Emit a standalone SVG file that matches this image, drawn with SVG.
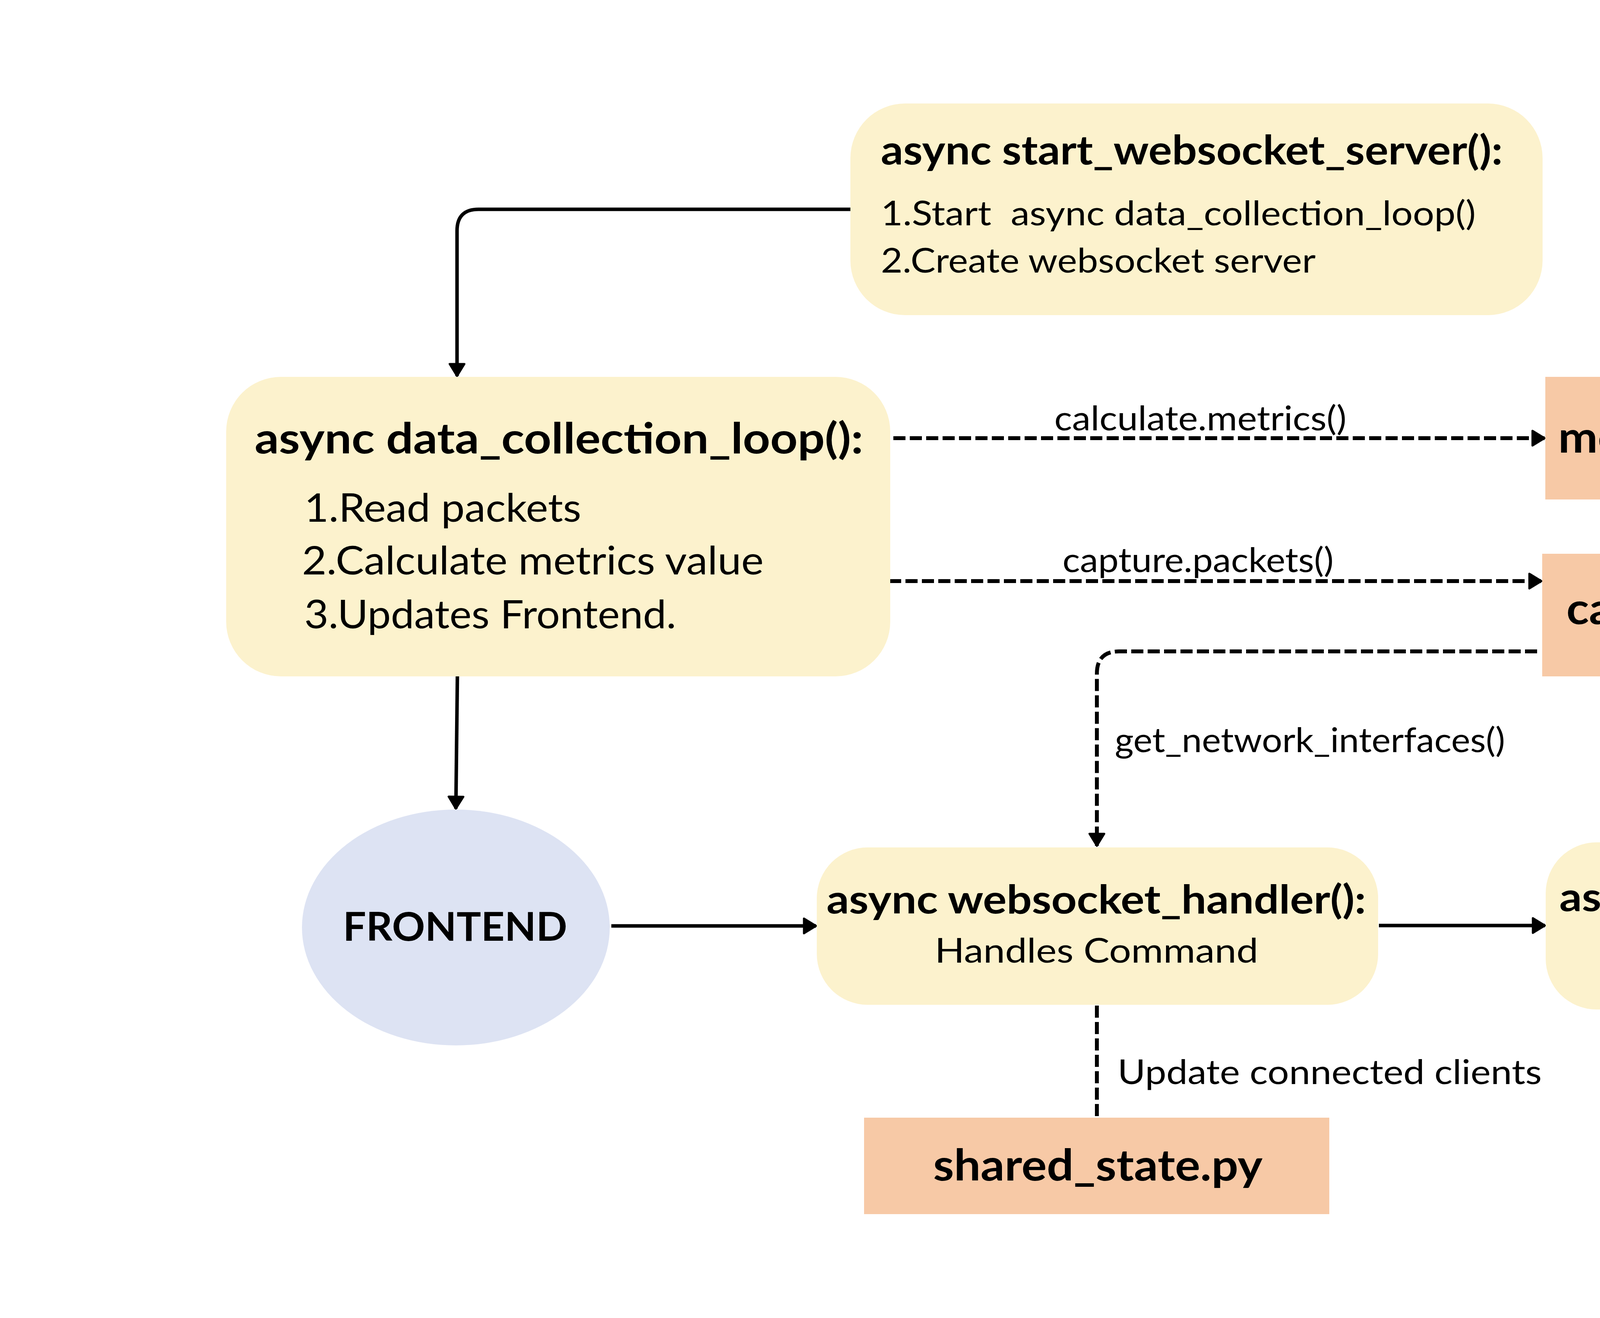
<svg xmlns="http://www.w3.org/2000/svg" width="6000" height="3375" viewBox="0 0 6000 3375">
<style>
.box{fill:#FCF2CD}
.file{fill:#F7C9A6}
.t{font-family:Lato,"Liberation Sans",sans-serif;fill:#000}
.b{font-weight:700}
.solid{fill:none;stroke:#000;stroke-width:9}
.dash{fill:none;stroke:#000;stroke-width:10;stroke-dasharray:31 11}
.pre{white-space:pre}
</style>
<defs>
<marker id="ah" markerUnits="userSpaceOnUse" markerWidth="50" markerHeight="50" refX="34" refY="22" orient="auto">
<path d="M3,3 L34,22 L3,41 Z" fill="#000" stroke="#000" stroke-width="5" stroke-linejoin="round"/>
</marker>
</defs>
<rect width="6000" height="3375" fill="#fff"/>
<g id="connectors">
<path class="solid" d="M2177,536 L1225,536 Q1170,536 1170,591 L1170,963" marker-end="url(#ah)"/>
<path class="solid" d="M1171,1722 L1167,2071" marker-end="url(#ah)"/>
<path class="solid" d="M1565,2371 L2089,2371" marker-end="url(#ah)"/>
<path class="solid" d="M3530,2370 L3955,2370" marker-end="url(#ah)"/>
<path class="dash" d="M2287,1122 L3954,1122" marker-end="url(#ah)"/>
<path class="dash" d="M2276,1488 L3946,1488" marker-end="url(#ah)"/>
<path class="dash" d="M3935,1668 L2865,1668 Q2808,1668 2808,1725 L2808,2166" marker-end="url(#ah)"/>
<path class="dash" d="M5323,2359 L5350,2359 Q5412,2359 5412,2297 L5412,1188 Q5412,1122 5346,1122 L5154,1122" marker-end="url(#ah)"/>
<path class="dash" d="M5418,1575 L5143,1575" marker-end="url(#ah)"/>
<path class="dash" d="M2808,2575 L2808,2862"/>
<text class="t" x="2699" y="1102" font-size="88" textLength="748" lengthAdjust="spacingAndGlyphs">calculate.metrics()</text>
<text class="t" x="2720" y="1465" font-size="88" textLength="694" lengthAdjust="spacingAndGlyphs">capture.packets()</text>
<text class="t" x="2854" y="1926" font-size="88" textLength="999" lengthAdjust="spacingAndGlyphs">get_network_interfaces()</text>
<text class="t" x="2861" y="2776" font-size="88" textLength="1086" lengthAdjust="spacingAndGlyphs">Update connected clients</text>
</g>
<g id="start_websocket_server">
<rect class="box" x="2177" y="265" width="1772" height="542" rx="140" ry="140"/>
<text class="t b" x="2255" y="421" font-size="104" textLength="1592" lengthAdjust="spacingAndGlyphs">async start_websocket_server():</text>
<text class="t pre" x="2255" y="577" font-size="88" textLength="1523" lengthAdjust="spacingAndGlyphs">1.Start  async data_collection_loop()</text>
<text class="t" x="2255" y="698" font-size="88" textLength="1113" lengthAdjust="spacingAndGlyphs">2.Create websocket server</text>
</g>
<g id="data_collection_loop">
<rect class="box" x="579" y="965" width="1700" height="767" rx="140" ry="140"/>
<text class="t b" x="652" y="1161" font-size="110" textLength="1558" lengthAdjust="spacingAndGlyphs">async data_collection_loop():</text>
<text class="t" x="779" y="1336" font-size="100" textLength="709" lengthAdjust="spacingAndGlyphs">1.Read packets</text>
<text class="t" x="773" y="1471" font-size="100" textLength="1182" lengthAdjust="spacingAndGlyphs">2.Calculate metrics value</text>
<text class="t" x="779" y="1609" font-size="100" textLength="952" lengthAdjust="spacingAndGlyphs">3.Updates Frontend.</text>
</g>
<g id="metrics_calculator">
<rect class="file" x="3956" y="965" width="1196" height="314"/>
<text class="t b" x="3989" y="1159" font-size="112" textLength="1134" lengthAdjust="spacingAndGlyphs">metrics_calculator.py</text>
</g>
<g id="capture_manager">
<rect class="file" x="3948" y="1418" width="1193" height="314"/>
<text class="t b" x="4010" y="1598" font-size="112" textLength="1074" lengthAdjust="spacingAndGlyphs">capture_manager.py</text>
</g>
<g id="frontend">
<ellipse cx="1167" cy="2375" rx="394" ry="302" fill="#DDE3F3"/>
<text class="t b" x="878" y="2409" font-size="102" textLength="574" lengthAdjust="spacingAndGlyphs">FRONTEND</text>
</g>
<g id="websocket_handler">
<rect class="box" x="2091" y="2170" width="1437" height="403" rx="130" ry="130"/>
<text class="t b" x="2116" y="2339" font-size="102" textLength="1381" lengthAdjust="spacingAndGlyphs">async websocket_handler():</text>
<text class="t" x="2393" y="2465" font-size="88" textLength="828" lengthAdjust="spacingAndGlyphs">Handles Command</text>
</g>
<g id="handle_command">
<rect class="box" x="3957" y="2157" width="1353" height="428" rx="130" ry="130"/>
<text class="t b" x="3992" y="2333" font-size="102" textLength="1291" lengthAdjust="spacingAndGlyphs">async handle_command():</text>
<text class="t" x="4209" y="2458" font-size="91" textLength="770" lengthAdjust="spacingAndGlyphs">Routes Command</text>
</g>
<g id="shared_state">
<rect class="file" x="2212" y="2862" width="1191" height="247"/>
<text class="t b" x="2389" y="3023" font-size="112" textLength="843" lengthAdjust="spacingAndGlyphs">shared_state.py</text>
</g>
</svg>
